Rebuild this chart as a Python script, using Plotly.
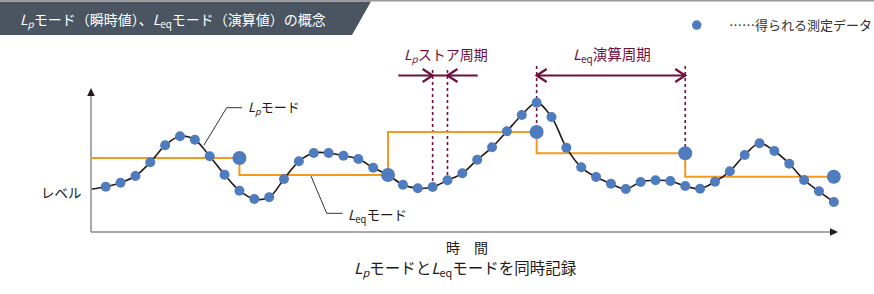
import plotly.graph_objects as go

# ---------------- data ----------------
t = list(range(50))  # sample index (time)
level = [45.3, 49.3, 56.0, 69.7, 86.7, 95.7, 92.3, 75.7, 57.3, 41.3,
         33.0, 34.7, 53.0, 70.7, 79.0, 79.0, 76.3, 73.0, 64.3, 57.0,
         47.3, 43.7, 45.0, 51.7, 58.7, 72.3, 84.7, 100.7, 117.0, 129.3,
         115.0, 84.3, 64.7, 55.0, 48.3, 43.0, 50.0, 51.7, 51.0, 46.0,
         43.3, 50.3, 60.7, 77.0, 88.7, 81.0, 68.3, 52.0, 40.7, 30.0]
curve_start_t = -0.93
curve_start_level = 43.0

leq_t = [-0.93, 9, 19, 29, 39, 49]
leq_level = [74.0, 57.0, 100.0, 78.7, 55.3, 55.3]
leq_marker_t = [9, 19, 29, 39, 49]
leq_marker_level = [74.0, 57.0, 100.0, 78.7, 55.3]

lp_store_t = [22, 23]
leq_period_t = [29, 39]

# ---------------- geometry helpers ----------------
W, H = 874, 294
X0, DX, Y0 = 105.7, 14.86, 232.0


def tx(px):
    return (px - X0) / DX


def ly(py):
    return Y0 - py


def pxp(px):
    return px / W


def pyp(py):
    return 1 - py / H


BLUE = "#4f7cbf"
ORANGE = "#f39a1e"
MAROON = "#6e0f3c"
DARK = "#231815"
GRAY = "#8c8c8c"
FONT = "Noto Sans CJK JP"

fig = go.Figure()

# Leq step line
fig.add_trace(go.Scatter(x=leq_t, y=leq_level, mode="lines", line=dict(color=ORANGE, width=2, shape="hv"),
                         hoverinfo="skip"))
# Lp curve
fig.add_trace(go.Scatter(x=[curve_start_t] + t, y=[curve_start_level] + level, mode="lines",
                         line=dict(color=DARK, width=1.6, shape="spline", smoothing=1.0), hoverinfo="skip"))
# measured points
fig.add_trace(go.Scatter(x=t, y=level, mode="markers", marker=dict(color=BLUE, size=10, line=dict(width=0))))
# Leq points
fig.add_trace(go.Scatter(x=leq_marker_t, y=leq_marker_level, mode="markers",
                         marker=dict(color=BLUE, size=14, line=dict(width=0))))

shapes = []
# top gray rule & title banner
shapes.append(dict(type="rect", xref="paper", yref="paper", x0=0, x1=1, y0=pyp(1.5), y1=pyp(0),
                   fillcolor="#9a9a9a", line=dict(width=0), layer="above"))
shapes.append(dict(type="path", xref="paper", yref="paper",
                   path=f"M 0 {pyp(1.5)} L {pxp(371)} {pyp(1.5)} L {pxp(352)} {pyp(35)} L 0 {pyp(35)} Z",
                   fillcolor="#4b5461", line=dict(width=0), layer="below"))

# axes
ax_t = tx(91)
shapes.append(dict(type="line", x0=ax_t, x1=ax_t, y0=ly(232), y1=ly(95), line=dict(color=GRAY, width=1.5),
                   layer="below"))
shapes.append(dict(type="line", x0=ax_t, x1=tx(831), y0=ly(232), y1=ly(232), line=dict(color=GRAY, width=1.5),
                   layer="below"))
shapes.append(dict(type="path",
                   path=f"M {tx(91)} {ly(88)} L {tx(94.8)} {ly(96)} L {tx(87.2)} {ly(96)} Z",
                   fillcolor=DARK, line=dict(width=0)))
shapes.append(dict(type="path",
                   path=f"M {tx(838)} {ly(232)} L {tx(830)} {ly(228.3)} L {tx(830)} {ly(235.7)} Z",
                   fillcolor=DARK, line=dict(width=0)))

# dashed period guides
dash = dict(color=MAROON, width=1.6, dash="3px,3px")
for k in lp_store_t:
    shapes.append(dict(type="line", x0=k, x1=k, y0=ly(70), y1=level[k] + 5, line=dash, layer="below"))
shapes.append(dict(type="line", x0=leq_period_t[0], x1=leq_period_t[0], y0=ly(66), y1=leq_level[2],
                   line=dash, layer="below"))
shapes.append(dict(type="line", x0=leq_period_t[1], x1=leq_period_t[1], y0=ly(66), y1=leq_level[3],
                   line=dash, layer="below"))

# Lp store period arrow (inward chevrons)
ya = ly(75.5)
arr = dict(color=MAROON, width=2.2)
shapes.append(dict(type="line", x0=tx(398.3), x1=tx(477.7), y0=ya, y1=ya, line=arr))
a, b = lp_store_t
shapes.append(dict(type="path", path=f"M {a - 10 / DX} {ya + 6.5} L {a} {ya} L {a - 10 / DX} {ya - 6.5}",
                   line=arr))
shapes.append(dict(type="path", path=f"M {b + 10 / DX} {ya + 6.5} L {b} {ya} L {b + 10 / DX} {ya - 6.5}",
                   line=arr))
# Leq period arrow (outward chevrons)
a, b = leq_period_t
shapes.append(dict(type="line", x0=a, x1=b, y0=ya, y1=ya, line=arr))
shapes.append(dict(type="path", path=f"M {a + 10 / DX} {ya + 6.5} L {a} {ya} L {a + 10 / DX} {ya - 6.5}",
                   line=arr))
shapes.append(dict(type="path", path=f"M {b - 10 / DX} {ya + 6.5} L {b} {ya} L {b - 10 / DX} {ya - 6.5}",
                   line=arr))

# leader lines
lead = dict(color="#333333", width=1)
shapes.append(dict(type="path",
                   path=f"M {tx(204)} {ly(145)} L {tx(226.7)} {ly(107.7)} L {tx(242)} {ly(107.7)}", line=lead))
shapes.append(dict(type="path",
                   path=f"M {tx(311)} {ly(176)} L {tx(326.7)} {ly(213.3)} L {tx(342.7)} {ly(213.3)}", line=lead))

# legend dot
shapes.append(dict(type="circle", xref="paper", yref="paper", x0=pxp(692), x1=pxp(701.5), y0=pyp(29.8),
                   y1=pyp(20.3), fillcolor=BLUE, line=dict(width=0)))

annotations = []


def txt(text, px, py, size, color=DARK, xanchor="center"):
    annotations.append(dict(text=text, x=pxp(px), y=pyp(py), xref="paper", yref="paper", showarrow=False,
                            xanchor=xanchor, yanchor="middle", font=dict(family=FONT, size=size, color=color)))


txt("<i>L<sub>p</sub></i>モード（瞬時値）、<i>L</i><sub>eq</sub>モード（演算値）の概念", 18, 19.5, 14, "white", "left")
txt("……得られる測定データ", 874, 25, 13, "#333333", "right")
txt("レベル", 84, 191.5, 13.5, DARK, "right")
txt("<i>L<sub>p</sub></i>モード", 246, 107.5, 13, DARK, "left")
txt("<i>L</i><sub>eq</sub>モード", 346, 214.5, 13.5, DARK, "left")
txt("<i>L<sub>p</sub></i>ストア周期", 446, 55, 14, MAROON)
txt("<i>L</i><sub>eq</sub>演算周期", 612, 55, 14.5, MAROON)
txt("時　間", 466.5, 247, 14, DARK)
txt("<i>L<sub>p</sub></i>モードと<i>L</i><sub>eq</sub>モードを同時記録", 465.5, 268, 15.5, DARK)

fig.update_layout(
    width=W, height=H, margin=dict(l=0, r=0, t=0, b=0),
    paper_bgcolor="white", plot_bgcolor="white", showlegend=False,
    xaxis=dict(range=[tx(0), tx(W)], visible=False, fixedrange=True),
    yaxis=dict(range=[ly(H), ly(0)], visible=False, fixedrange=True),
    shapes=shapes, annotations=annotations,
    font=dict(family=FONT),
)

fig.write_html("out.html", config={"displayModeBar": False},
               post_script="document.body.style.margin='0';document.body.style.overflow='hidden';")
